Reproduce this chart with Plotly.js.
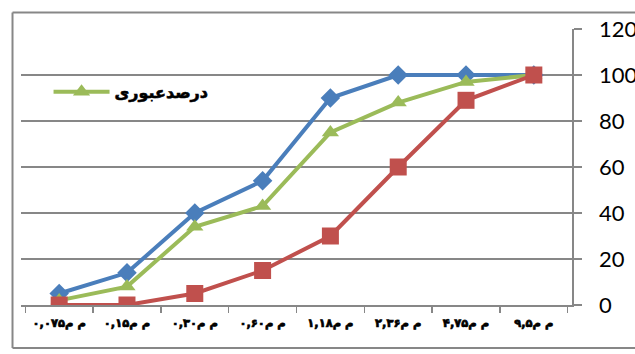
<!DOCTYPE html>
<html>
<head>
<meta charset="utf-8">
<script src="https://cdn.plot.ly/plotly-3.0.1.min.js"></script>
<style>
  html, body { margin: 0; padding: 0; background: #fff; }
  #chart { width: 635px; height: 354px; }
  /* heavier strokes for the Persian labels */
  #chart .xtick text { stroke: #000; stroke-width: 0.7px; }
  #chart .legendtext { stroke: #000; stroke-width: 0.6px; }
</style>
</head>
<body>
<div id="chart"></div>
<script>
// Sieve sizes (Persian labels) and passing percentages
const sieveLabels = ['۰,۰۷۵م م', '۰,۱۵م م', '۰,۳۰م م', '۰,۶۰م م', '۱,۱۸م م', '۲,۳۶م م', '۴,۷۵م م', '۹,۵م م'];
const upperLimit = [5, 14, 40, 54, 90, 100, 100, 100];
const passing = [2, 8, 34, 43, 75, 88, 97, 100];
const lowerLimit = [0, 0, 5, 15, 30, 60, 89, 100];
const yTicks = [0, 20, 40, 60, 80, 100, 120];

const gray = '#878787';

const traces = [
  {
    x: sieveLabels, y: upperLimit, name: 'حد بالا', type: 'scatter', mode: 'lines+markers',
    showlegend: false,
    line: { color: '#4A7EBB', width: 4 },
    marker: { symbol: 'diamond', size: 15, color: '#4A7EBB' }
  },
  {
    x: sieveLabels, y: passing, name: 'درصدعبوری', type: 'scatter', mode: 'lines+markers',
    line: { color: '#9BBB59', width: 4 },
    marker: { symbol: 'triangle-up', size: 15, color: '#9BBB59' }
  },
  {
    x: sieveLabels, y: lowerLimit, name: 'حد پایین', type: 'scatter', mode: 'lines+markers',
    showlegend: false,
    line: { color: '#C0504D', width: 4 },
    marker: { symbol: 'square', size: 17, color: '#C0504D' }
  }
];

const layout = {
  width: 635, height: 354,
  margin: { l: 21, r: 63, t: 29, b: 49 },
  paper_bgcolor: '#fff', plot_bgcolor: '#fff',
  showlegend: true,
  legend: {
    x: 0.05, y: 0.772, xanchor: 'left', yanchor: 'middle',
    bgcolor: 'rgba(0,0,0,0)',
    itemwidth: 56,
    font: { family: 'DejaVu Sans', size: 16, color: '#000', weight: 'bold' }
  },
  xaxis: {
    type: 'category',
    showgrid: false,
    showline: true, linecolor: gray, linewidth: 1.5,
    ticks: 'outside', tickson: 'boundaries', ticklen: 6, tickcolor: gray, tickwidth: 1.5,
    tickangle: 0,
    ticklabelstandoff: 7,
    tickfont: { family: 'DejaVu Sans', size: 11.5, color: '#000', weight: 'bold' },
    fixedrange: true
  },
  yaxis: {
    side: 'right',
    range: [0, 120],
    tickvals: yTicks,
    ticktext: yTicks.map(String),
    showgrid: true, gridcolor: gray, gridwidth: 1.5,
    zeroline: false,
    showline: true, linecolor: gray, linewidth: 1.5,
    ticks: 'outside', ticklen: 8, tickcolor: gray, tickwidth: 1.5,
    ticklabelstandoff: 13,
    tickfont: { family: 'Lato', size: 22, color: '#000' },
    fixedrange: true
  },
  shapes: [
    // chart frame (left, top, bottom edges)
    { type: 'line', xref: 'paper', yref: 'paper', x0: -0.0154, x1: -0.0154, y0: 1.0598, y1: -0.1558,
      line: { color: gray, width: 2 } },
    { type: 'line', xref: 'paper', yref: 'paper', x0: -0.0154, x1: 1.2, y0: 1.0598, y1: 1.0598,
      line: { color: gray, width: 2 } },
    { type: 'line', xref: 'paper', yref: 'paper', x0: -0.0154, x1: 1.2, y0: -0.1558, y1: -0.1558,
      line: { color: gray, width: 2 } }
  ]
};

Plotly.newPlot('chart', traces, layout, { displayModeBar: false, staticPlot: true });
</script>
</body>
</html>
